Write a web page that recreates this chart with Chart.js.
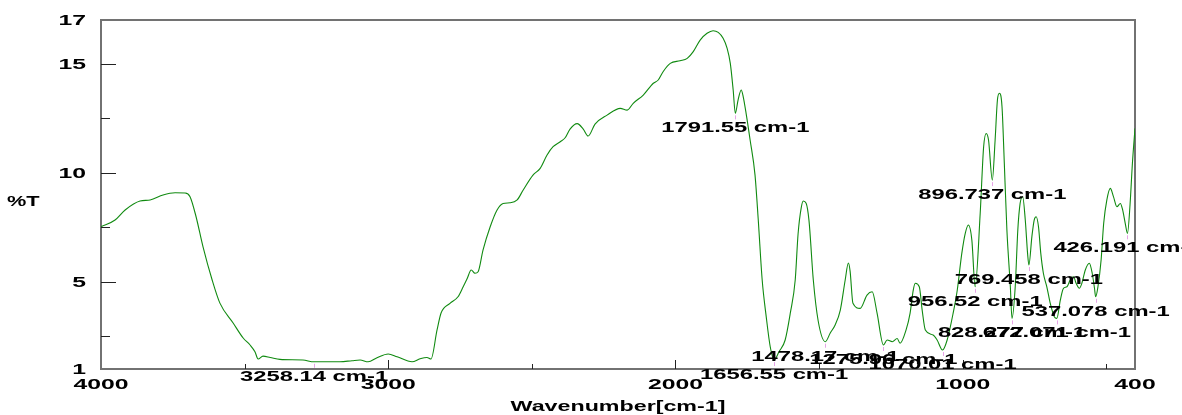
<!DOCTYPE html>
<html>
<head>
<meta charset="utf-8">
<script src="https://cdn.jsdelivr.net/npm/chart.js@4/dist/chart.umd.min.js"></script>
<style>
	html, body { margin: 0; padding: 0; background: #fff; }
	#wrap { width: 1182px; height: 415px; position: relative; }
</style>
</head>
<body>
<div id="wrap"><canvas id="irChart"></canvas></div>
<script>
// IR spectrum, wavenumber (cm-1) against %T
const wavenumber = [
	4000, 3951, 3916, 3864, 3829, 3784, 3742, 3707, 3690, 3669, 3645, 3613, 3586, 3540, 3505, 3481,
	3464, 3453, 3436, 3411, 3377, 3297, 3258.14, 3168, 3126, 3098, 3070, 3039, 3000, 2969, 2917, 2889,
	2865, 2851, 2830, 2816, 2785, 2757, 2739, 2725, 2711, 2698, 2687, 2670, 2645, 2621, 2600, 2576,
	2551, 2530, 2496, 2471, 2447, 2426, 2401, 2384, 2367, 2342, 2321, 2304, 2280, 2238, 2192, 2168,
	2147, 2112, 2077, 2060, 2043, 2018, 1984, 1959, 1938, 1914, 1890, 1869, 1851, 1834, 1820, 1809,
	1799, 1791.55, 1782, 1771, 1764, 1754, 1740, 1723, 1712, 1698, 1684, 1670, 1656.55, 1639, 1618, 1600,
	1583, 1573, 1562, 1555, 1545, 1535, 1520, 1503, 1478.17, 1461, 1444, 1426, 1409, 1398, 1392, 1382,
	1357, 1333, 1315, 1298, 1275.96, 1263, 1245, 1228, 1218, 1197, 1183, 1172, 1165, 1151, 1141, 1130,
	1103, 1089, 1070.01, 1054, 1033, 1019, 1003, 991, 980, 968, 956.52, 939, 927, 918, 910, 896.737,
	887, 879, 872, 863, 855, 846, 834, 828.277, 817, 808, 800, 791, 782, 774, 769.458, 759,
	751, 744, 736, 728, 719, 707, 695, 681, 672.071, 660, 649, 637, 623, 614, 605, 594,
	585, 573, 559, 549, 541, 537.078, 529, 518, 509, 498, 486, 475, 463, 451, 443, 434,
	426.191, 417, 409, 400
];
const transmittance = [
	7.52, 7.83, 8.29, 8.70, 8.75, 8.98, 9.08, 9.07, 8.90, 7.98, 6.61, 5.08, 4.02, 3.11, 2.42, 2.10,
	1.79, 1.46, 1.59, 1.53, 1.44, 1.41, 1.33, 1.33, 1.38, 1.41, 1.33, 1.52, 1.69, 1.56, 1.33, 1.47,
	1.53, 1.46, 2.79, 3.57, 4.01, 4.31, 4.77, 5.15, 5.54, 5.39, 5.46, 6.45, 7.52, 8.29, 8.59, 8.62,
	8.75, 9.21, 9.89, 10.20, 10.81, 11.19, 11.42, 11.60, 12.00, 12.25, 12.00, 11.68, 12.23, 12.64, 12.95, 12.87,
	13.18, 13.56, 14.10, 14.25, 14.63, 15.01, 15.13, 15.24, 15.55, 16.08, 16.39, 16.51, 16.43, 16.16, 15.70, 15.01,
	13.79, 12.72, 13.33, 13.79, 13.48, 12.72, 11.50, 9.90, 7.90, 5.08, 3.40, 2.02, 1.41, 1.80, 2.33, 3.57,
	5.08, 7.20, 8.40, 8.70, 8.60, 7.80, 5.08, 3.20, 2.25, 2.65, 3.02, 3.70, 5.08, 5.86, 5.50, 4.01,
	3.78, 4.39, 4.54, 3.56, 2.10, 2.33, 2.25, 2.40, 2.18, 2.79, 3.56, 4.62, 4.93, 4.77, 3.70, 2.79,
	2.56, 2.33, 1.87, 2.33, 3.57, 4.60, 6.30, 7.22, 7.60, 6.91, 4.77, 8.13, 11.19, 11.80, 11.50, 9.66,
	11.50, 13.33, 13.64, 13.02, 10.43, 7.37, 4.77, 3.32, 4.77, 7.37, 8.59, 8.90, 7.83, 6.30, 5.77, 7.07,
	7.83, 7.98, 7.52, 6.30, 5.39, 4.77, 4.01, 3.40, 3.32, 4.16, 4.70, 4.77, 5.16, 5.23, 4.93, 4.70,
	4.93, 5.54, 5.85, 5.39, 4.70, 4.31, 4.77, 6.00, 7.68, 8.75, 9.28, 8.90, 8.44, 8.59, 8.29, 7.68,
	7.22, 8.59, 10.43, 12.03
];

// picked peaks (cm-1), labelled below each minimum
const peaks = [3258.14, 1791.55, 1656.55, 1478.17, 1275.96, 1070.01, 956.52, 896.737, 828.277, 769.458, 672.071, 537.078, 426.191];

const xTicks = [3500, 3000, 2500, 2000, 1500, 1000, 500];
const xLabels = [4000, 3000, 2000, 1000, 400];
const yTicks = [2.5, 5, 7.5, 10, 12.5, 15];
const yLabels = [1, 5, 10, 15, 17];

const points = wavenumber.map((w, i) => ({ x: w, y: transmittance[i] }));

// wide bold lettering
function wideText(ctx, text, x, y, sx, align) {
	ctx.save();
	ctx.translate(x, y);
	ctx.scale(sx, 1);
	ctx.textAlign = align;
	ctx.textBaseline = "middle";
	ctx.fillText(text, 0, 0);
	ctx.restore();
}

const frame = {
	id: "irFrame",
	beforeDatasetsDraw(chart) {
		const { ctx, chartArea: a, scales: { x, y } } = chart;
		ctx.save();
		ctx.strokeStyle = "#727272";
		ctx.lineWidth = 2;
		ctx.strokeRect(a.left, a.top, a.right - a.left, a.bottom - a.top);

		ctx.strokeStyle = "#222";
		ctx.lineWidth = 1;
		ctx.beginPath();
		yTicks.forEach((v) => {
			const py = Math.round(y.getPixelForValue(v)) + 0.5;
			ctx.moveTo(a.left, py);
			ctx.lineTo(a.left + (v % 5 === 0 ? 15 : 9), py);
		});
		xTicks.forEach((v) => {
			const px = Math.round(x.getPixelForValue(v)) + 0.5;
			ctx.moveTo(px, a.bottom);
			ctx.lineTo(px, a.bottom - (v % 1000 === 0 ? 9 : 5));
		});
		ctx.stroke();
		ctx.restore();
	},
	afterDatasetsDraw(chart) {
		const { ctx, chartArea: a, scales: { x, y } } = chart;
		ctx.save();
		ctx.fillStyle = "#000";

		// peak markers and labels
		peaks.forEach((w) => {
			const v = transmittance[wavenumber.indexOf(w)];
			const px = x.getPixelForValue(w);
			const py = y.getPixelForValue(v);
			ctx.strokeStyle = "rgba(225,140,225,0.8)";
			ctx.lineWidth = 1;
			ctx.beginPath();
			ctx.moveTo(Math.round(px) + 0.5, py + 2);
			ctx.lineTo(Math.round(px) + 0.5, py + 6);
			ctx.stroke();
			ctx.font = 'bold 14px "Liberation Sans"';
			wideText(ctx, w + " cm-1", px, py + 15, 1.7, "center");
		});

		ctx.font = 'bold 15px "Liberation Sans"';
		yLabels.forEach((v) => {
			wideText(ctx, String(v), a.left - 15, y.getPixelForValue(v) + 1, 1.65, "right");
		});
		xLabels.forEach((v) => {
			wideText(ctx, String(v), x.getPixelForValue(v), a.bottom + 16, 1.65, "center");
		});
		wideText(ctx, "Wavenumber[cm-1]", (a.left + a.right) / 2, a.bottom + 38, 1.55, "center");
		wideText(ctx, "%T", 7, 202, 1.45, "left");
		ctx.restore();
	}
};

new Chart(document.getElementById("irChart"), {
	type: "line",
	data: {
		datasets: [{
			data: points,
			borderColor: "#108a10",
			borderWidth: 1.1,
			pointRadius: 0,
			cubicInterpolationMode: "monotone",
			fill: false
		}]
	},
	options: {
		responsive: true,
		maintainAspectRatio: false,
		animation: false,
		layout: { padding: { left: 101, right: 47, top: 20, bottom: 46 } },
		scales: {
			x: { type: "linear", reverse: true, min: 400, max: 4000, display: false },
			y: { type: "linear", min: 1, max: 17, display: false }
		},
		plugins: {
			legend: { display: false },
			tooltip: { enabled: false }
		}
	},
	plugins: [frame]
});
</script>
</body>
</html>
